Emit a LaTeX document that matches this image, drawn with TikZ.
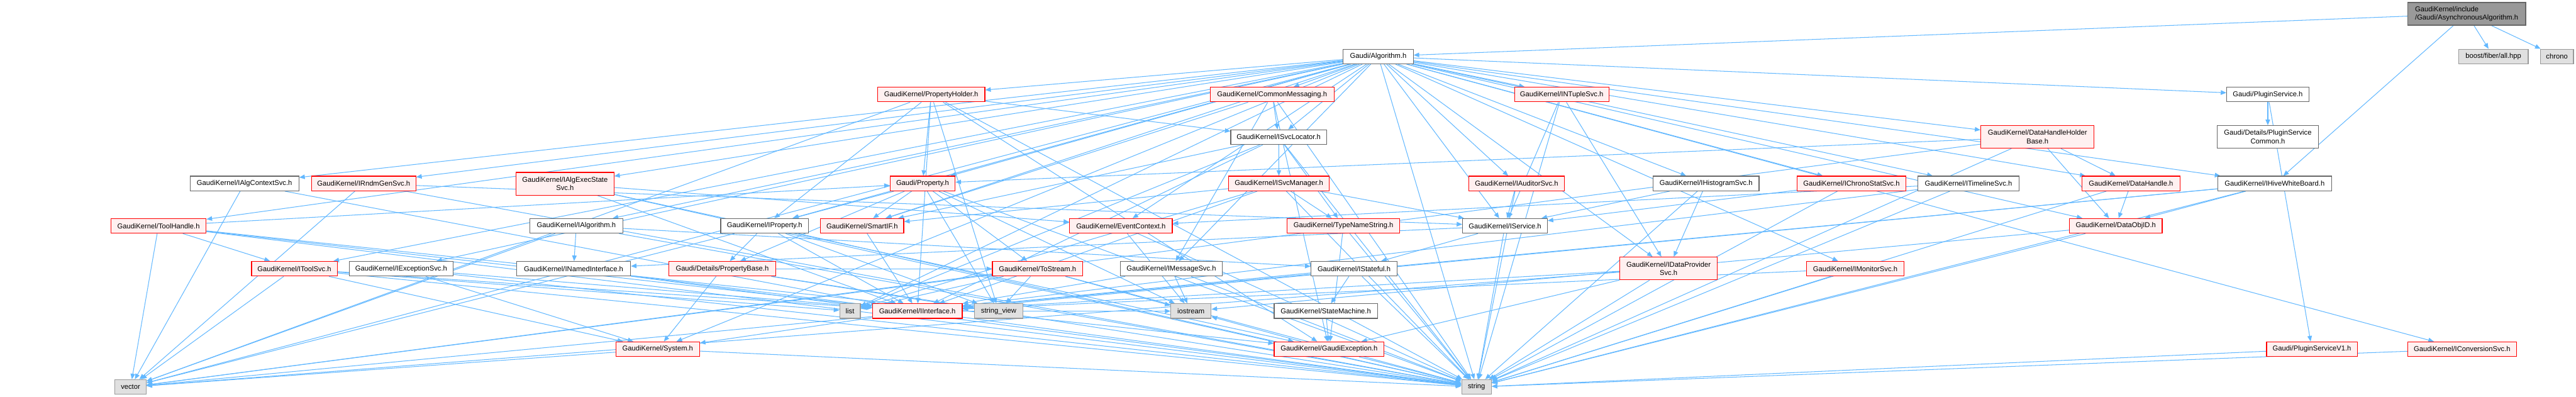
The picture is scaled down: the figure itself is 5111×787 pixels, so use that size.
\documentclass[tikz,border=0pt]{standalone}
\usepackage{fontspec}
\setmainfont{Liberation Sans}
\usetikzlibrary{arrows.meta}
\pgfdeclarelayer{bg}
\pgfsetlayers{bg,main}
\definecolor{edgeblue}{HTML}{63B8FF}
\definecolor{redfill}{HTML}{FFF0F0}
\definecolor{nodegray}{HTML}{666666}
\definecolor{sysfill}{HTML}{E0E0E0}
\definecolor{sysline}{HTML}{999999}
\definecolor{rootfill}{HTML}{999999}
\begin{document}
\begin{tikzpicture}[x=1pt,y=-1pt,
  box/.style={draw,line width=1.5pt,minimum height=29pt,inner sep=2pt,font=\fontsize{14}{16.7}\selectfont},
  redbox/.style={box,draw=red,fill=redfill},
  whitebox/.style={box,draw=nodegray,fill=white},
  sysbox/.style={box,draw=sysline,fill=sysfill},
  rootbox/.style={box,draw=nodegray,fill=rootfill},
  dep/.style={edgeblue,line width=1.3pt,-{Triangle[length=11pt,width=9pt]}}]
\useasboundingbox (0,0) rectangle (5111,787);
\node[rootbox,minimum width=234pt,minimum height=45pt,align=left] (root) at (4894,27.5) {GaudiKernel/include\\/Gaudi/AsynchronousAlgorithm.h};
\node[sysbox,minimum width=138pt] (boost) at (4947,112) {boost/fiber/all.hpp};
\node[sysbox,minimum width=66pt] (chrono) at (5073,112) {chrono};
\node[whitebox,minimum width=139pt] (alg) at (2734.5,112) {Gaudi/Algorithm.h};

\node[redbox,minimum width=213pt] (propholder) at (1847.5,187.5) {GaudiKernel/PropertyHolder.h};
\node[redbox,minimum width=246pt] (commonmsg) at (2524,187.5) {GaudiKernel/CommonMessaging.h};
\node[redbox,minimum width=187pt] (ntuplesvc) at (3098.5,187.5) {GaudiKernel/INTupleSvc.h};
\node[whitebox,minimum width=163pt] (pluginsvc) at (4499.5,187.5) {Gaudi/PluginService.h};

\node[whitebox,minimum width=190pt] (svclocator) at (2537,272) {GaudiKernel/ISvcLocator.h};
\node[redbox,minimum width=225pt,minimum height=45pt,align=center] (dhholder) at (4042.5,271.5) {GaudiKernel/DataHandleHolder\\Base.h};
\node[whitebox,minimum width=201pt,minimum height=45pt,align=center] (plugincommon) at (4499.5,271.5) {Gaudi/Details/PluginService\\Common.h};

\node[whitebox,minimum width=216pt] (algctx) at (485,364) {GaudiKernel/IAlgContextSvc.h};
\node[redbox,minimum width=207pt] (rndmgen) at (721.5,364) {GaudiKernel/IRndmGenSvc.h};
\node[redbox,minimum width=194pt,minimum height=45pt,align=center] (execstate) at (1121,364.5) {GaudiKernel/IAlgExecState\\Svc.h};
\node[redbox,minimum width=129pt] (property) at (1830.5,364) {Gaudi/Property.h};
\node[redbox,minimum width=199pt] (svcmanager) at (2537.5,364) {GaudiKernel/ISvcManager.h};
\node[redbox,minimum width=190pt] (auditorsvc) at (3009,364) {GaudiKernel/IAuditorSvc.h};
\node[whitebox,minimum width=210pt] (histosvc) at (3385,364) {GaudiKernel/IHistogramSvc.h};
\node[redbox,minimum width=215pt] (chronosvc) at (3673.5,364) {GaudiKernel/IChronoStatSvc.h};
\node[whitebox,minimum width=201pt] (timelinesvc) at (3905.5,364) {GaudiKernel/ITimelineSvc.h};
\node[redbox,minimum width=194pt] (datahandle) at (4228,364) {GaudiKernel/DataHandle.h};
\node[whitebox,minimum width=226pt] (hivewb) at (4513,364) {GaudiKernel/IHiveWhiteBoard.h};

\node[redbox,minimum width=189pt] (toolhandle) at (314.5,448) {GaudiKernel/ToolHandle.h};
\node[whitebox,minimum width=185pt] (ialgorithm) at (1143.5,448) {GaudiKernel/IAlgorithm.h};
\node[whitebox,minimum width=174pt] (iproperty) at (1517,448) {GaudiKernel/IProperty.h};
\node[redbox,minimum width=165pt] (smartif) at (1710.5,448) {GaudiKernel/SmartIF.h};
\node[redbox,minimum width=204pt] (evtcontext) at (2224,448) {GaudiKernel/EventContext.h};
\node[redbox,minimum width=223pt] (typename) at (2665.5,448) {GaudiKernel/TypeNameString.h};
\node[whitebox,minimum width=168pt] (iservice) at (2986,448) {GaudiKernel/IService.h};
\node[redbox,minimum width=184pt] (dataobjid) at (4198,448) {GaudiKernel/DataObjID.h};

\node[redbox,minimum width=170pt] (toolsvc) at (584,533) {GaudiKernel/IToolSvc.h};
\node[whitebox,minimum width=206pt] (exceptionsvc) at (796,533) {GaudiKernel/IExceptionSvc.h};
\node[whitebox,minimum width=226pt] (namedif) at (1138,533) {GaudiKernel/INamedInterface.h};
\node[redbox,minimum width=212pt] (propbase) at (1433,533) {Gaudi/Details/PropertyBase.h};
\node[redbox,minimum width=179pt] (tostream) at (2058.5,533) {GaudiKernel/ToStream.h};
\node[whitebox,minimum width=202pt] (msgsvc) at (2324,533) {GaudiKernel/IMessageSvc.h};
\node[whitebox,minimum width=171pt] (istateful) at (2686.5,533) {GaudiKernel/IStateful.h};
\node[redbox,minimum width=193pt,minimum height=45pt,align=center] (dataprovsvc) at (3310.5,532.5) {GaudiKernel/IDataProvider\\Svc.h};
\node[redbox,minimum width=194pt] (monitorsvc) at (3681,533) {GaudiKernel/IMonitorSvc.h};

\node[sysbox,minimum width=41pt] (list) at (1686.5,617) {list};
\node[redbox,minimum width=178pt] (iinterface) at (1820,617) {GaudiKernel/IInterface.h};
\node[sysbox,minimum width=97pt] (stringview) at (1981.5,617) {string\_view};
\node[sysbox,minimum width=80pt] (iostream) at (2363,617) {iostream};
\node[whitebox,minimum width=205pt] (statemachine) at (2630.5,617) {GaudiKernel/StateMachine.h};

\node[redbox,minimum width=166pt] (system) at (1305,692.5) {GaudiKernel/System.h};
\node[redbox,minimum width=218pt] (gaudiexc) at (2637,692.5) {GaudiKernel/GaudiException.h};
\node[redbox,minimum width=180pt] (pluginv1) at (4587,692.5) {Gaudi/PluginServiceV1.h};
\node[redbox,minimum width=216pt] (convsvc) at (4885,692.5) {GaudiKernel/IConversionSvc.h};

\node[sysbox,minimum width=62pt] (vector) at (259,767.5) {vector};
\node[sysbox,minimum width=59pt] (string) at (2929.5,767.5) {string};

\begin{pgfonlayer}{bg}
\foreach \a/\b in {root/alg,root/boost,root/chrono,root/hivewb,
  alg/propholder,alg/commonmsg,alg/ntuplesvc,alg/pluginsvc,alg/svclocator,alg/dhholder,
  alg/algctx,alg/rndmgen,alg/execstate,alg/property,alg/auditorsvc,alg/histosvc,
  alg/chronosvc,alg/timelinesvc,alg/datahandle,alg/hivewb,alg/toolhandle,alg/ialgorithm,
  alg/iproperty,alg/smartif,alg/evtcontext,alg/iservice,alg/dataobjid,alg/toolsvc,
  alg/exceptionsvc,alg/msgsvc,alg/dataprovsvc,alg/monitorsvc,alg/system,alg/convsvc,
  alg/string,alg/vector,alg/list}
  \draw[dep] (\a) -- (\b);
\foreach \a/\b in {propholder/property,propholder/iproperty,propholder/svclocator,
  propholder/iinterface,propholder/gaudiexc,propholder/string,propholder/vector,propholder/stringview,
  commonmsg/svclocator,commonmsg/msgsvc,commonmsg/smartif,commonmsg/gaudiexc,commonmsg/string,
  ntuplesvc/dataprovsvc,ntuplesvc/iservice,ntuplesvc/string,
  pluginsvc/plugincommon,pluginsvc/pluginv1,
  svclocator/svcmanager,svclocator/typename,svclocator/smartif,svclocator/iinterface,
  svclocator/string,svclocator/list,
  dhholder/datahandle,dhholder/dataobjid,dhholder/property,dhholder/string,dhholder/vector,
  algctx/iinterface,algctx/vector,
  rndmgen/iservice,rndmgen/vector,rndmgen/string,
  execstate/iinterface,execstate/evtcontext,execstate/string,execstate/gaudiexc,
  property/propbase,property/iproperty,property/tostream,property/smartif,property/stringview,
  property/string,property/iostream}
  \draw[dep] (\a) -- (\b);
\foreach \a/\b in {svcmanager/iservice,svcmanager/smartif,svcmanager/typename,
  svcmanager/iinterface,svcmanager/string,svcmanager/list,
  auditorsvc/iservice,auditorsvc/string,
  histosvc/dataprovsvc,histosvc/iservice,histosvc/string,
  chronosvc/iservice,chronosvc/string,
  timelinesvc/iinterface,timelinesvc/evtcontext,timelinesvc/string,
  datahandle/dataobjid,datahandle/string,
  hivewb/dataobjid,hivewb/iinterface,hivewb/string,hivewb/vector,
  toolhandle/toolsvc,toolhandle/gaudiexc,toolhandle/property,toolhandle/iinterface,
  toolhandle/vector,toolhandle/string,
  ialgorithm/namedif,ialgorithm/istateful,ialgorithm/string,ialgorithm/vector,
  iproperty/propbase,iproperty/iinterface,iproperty/string,iproperty/stringview,iproperty/vector,
  smartif/iinterface,
  evtcontext/iostream,evtcontext/string,
  typename/gaudiexc,typename/string,
  iservice/istateful,iservice/namedif,iservice/string,
  dataobjid/iostream,dataobjid/string}
  \draw[dep] (\a) -- (\b);
\foreach \a/\b in {toolsvc/iinterface,toolsvc/system,toolsvc/list,toolsvc/string,toolsvc/vector,
  exceptionsvc/iinterface,exceptionsvc/system,exceptionsvc/string,
  namedif/iinterface,namedif/string,
  propbase/system,propbase/tostream,propbase/string,propbase/stringview,
  tostream/iostream,tostream/string,tostream/list,tostream/vector,tostream/stringview,
  msgsvc/iinterface,msgsvc/iostream,msgsvc/string,
  istateful/statemachine,istateful/iinterface,istateful/string,
  dataprovsvc/iinterface,dataprovsvc/string,dataprovsvc/vector,dataprovsvc/gaudiexc,
  monitorsvc/iinterface,monitorsvc/string,
  iinterface/system,iinterface/string,iinterface/iostream,
  statemachine/gaudiexc,
  system/string,system/vector,
  gaudiexc/string,gaudiexc/iostream,
  pluginv1/string,convsvc/string}
  \draw[dep] (\a) -- (\b);
\end{pgfonlayer}
\end{tikzpicture}
\end{document}
